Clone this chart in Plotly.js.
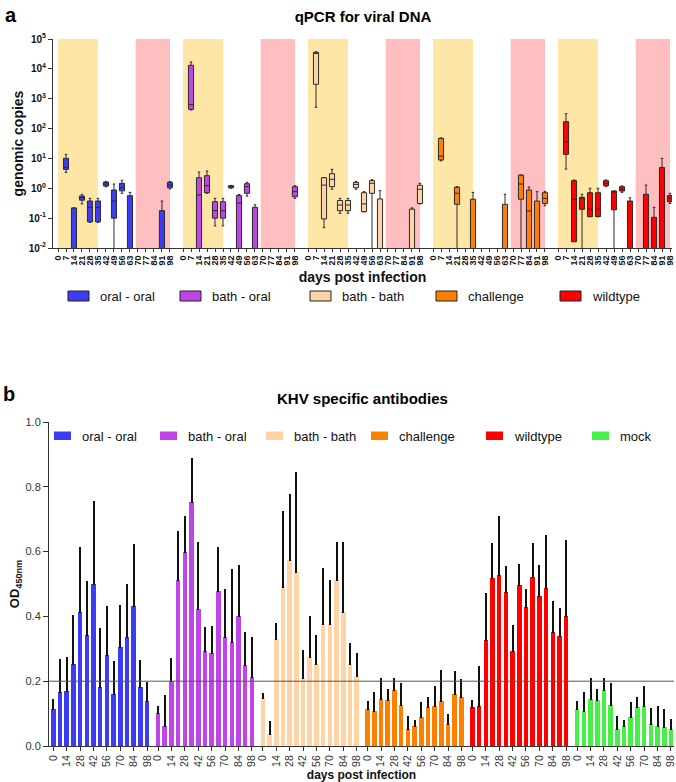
<!DOCTYPE html>
<html><head><meta charset="utf-8">
<script src="https://cdn.plot.ly/plotly-3.0.1.min.js"></script>
<style>html,body{margin:0;padding:0;background:#fff}</style>
</head><body>
<div id="chart" style="width:676px;height:782px"></div>
<script>
// ---------- DATA ----------
const days = [0,7,14,21,28,35,42,49,56,63,70,77,84,91,98];
const qGroups = ['oral - oral','bath - oral','bath - bath','challenge','wildtype'];
const abGroups = ['oral - oral','bath - oral','bath - bath','challenge','wildtype','mock'];
const ND = 0.001; // below detection (drawn under axis floor)

// qPCR box stats per day: [lowerWhisker, q1, median, q3, upperWhisker]; null = not detected
const qOral = [null,[3.4,4.3,5.0,10.1,13.7],[ND,ND,ND,0.22,0.22],[0.30,0.40,0.49,0.55,0.63],
  [0.072,0.075,0.23,0.375,0.46],[0.072,0.075,0.23,0.375,0.46],[1.12,1.19,1.39,1.62,1.7],
  [ND,0.10,0.375,0.875,1.39],[0.68,0.82,1.04,1.47,1.85],[ND,ND,ND,0.565,0.73],null,null,null,
  [ND,ND,ND,0.178,0.375],[0.95,1.04,1.28,1.58,1.7]];
const qBathOral = [null,[419,442,630,13150,16950],[ND,ND,0.6,2.26,3.5],[0.68,0.71,1.22,2.64,3.79],
  [0.055,0.10,0.178,0.355,0.46],[0.055,0.10,0.178,0.355,0.46],[1.0,1.04,1.13,1.22,1.25],
  [ND,ND,0.32,0.57,0.62],[0.55,0.68,1.13,1.42,1.58],[ND,ND,ND,0.23,0.28],null,null,null,null,
  [0.46,0.52,0.77,1.13,1.22]];
const qBathBath = [null,[515,3035,33000,35800,37000],[0.048,0.094,1.28,2.26,2.3],[0.93,1.13,2.0,3.08,4.3],
  [0.145,0.178,0.275,0.39,0.46],[0.145,0.178,0.275,0.39,0.46],[0.93,1.04,1.35,1.58,1.7],
  [0.164,0.164,0.30,0.71,0.77],[ND,0.68,1.47,1.8,1.94],[ND,ND,ND,0.44,0.83],null,null,null,
  [ND,ND,ND,0.20,0.22],[0.30,0.31,0.93,1.26,1.47]];
const qChallenge = [null,[8.3,8.9,12,47,48.5],null,[ND,0.29,0.68,1.08,1.13],null,[ND,ND,ND,0.43,0.73],
  null,null,null,[ND,ND,ND,0.29,0.63],null,[ND,0.43,1.39,2.78,2.78],[ND,ND,0.173,0.875,1.1],
  [ND,ND,ND,0.375,0.77],[0.26,0.31,0.46,0.71,0.79]];
const qWildtype = [null,[4.4,13.7,36,170,315],[0.0163,0.0163,0.43,1.8,1.9],[ND,0.198,0.46,0.50,0.63],
  [0.112,0.112,0.2,0.71,1.0],[0.112,0.112,0.2,0.71,1.0],[1.13,1.22,1.47,1.8,1.9],
  [ND,0.19,0.78,0.81,0.81],[0.73,0.81,0.94,1.13,1.2],[ND,ND,ND,0.375,0.48],null,
  [ND,ND,ND,0.63,1.28],[ND,ND,ND,0.107,0.23],[ND,ND,ND,5.0,10.1],[0.31,0.355,0.46,0.57,0.68]];
const qData = [qOral,qBathOral,qBathBath,qChallenge,qWildtype];

// shaded periods (days)
const yellowDays = [0,35];
const pinkDays = [68,98];

// antibody OD450 means and upper error
const abOral      = [0.114,0.166,0.17,0.254,0.415,0.343,0.5,0.183,0.28,0.162,0.306,0.335,0.433,0.183,0.139];
const abOralErr   = [0.028,0.099,0.103,0.146,0.196,0.163,0.253,0.177,0.149,0.096,0.127,0.163,0.187,0.08,0.056];
const abBathOral  = [0.103,0.063,0.2,0.513,0.6,0.753,0.422,0.292,0.286,0.477,0.335,0.322,0.4,0.25,0.213];
const abBathOralErr=[0.017,0.091,0.068,0.149,0.106,0.133,0.206,0.072,0.08,0.134,0.146,0.222,0.156,0.098,0.12];
const abBathBath  = [0.149,0.036,0.331,0.492,0.575,0.536,0.209,0.274,0.253,0.378,0.377,0.513,0.415,0.253,0.216];
const abBathBathErr=[0.011,0.037,0.045,0.229,0.201,0.307,0.085,0.124,0.087,0.169,0.133,0.114,0.212,0.062,0.067];
const abChallenge = [0.114,0.107,0.145,0.143,0.174,0.128,0.054,0.063,0.09,0.12,0.122,0.139,0.068,0.159,0.152];
const abChallengeErr=[0.021,0.058,0.061,0.03,0.032,0.062,0.035,0.015,0.043,0.028,0.06,0.093,0.029,0.069,0.053];
const abWildtype  = [0.12,0.124,0.328,0.52,0.529,0.475,0.292,0.496,0.429,0.522,0.462,0.489,0.351,0.34,0.402];
const abWildtypeErr=[0.02,0.119,0.141,0.105,0.178,0.078,0.077,0.064,0.053,0.102,0.093,0.159,0.092,0.083,0.23];
const abMock      = [0.114,0.107,0.145,0.143,0.174,0.128,0.054,0.063,0.09,0.12,0.122,0.067,0.063,0.059,0.052];
const abMockErr   = [0.021,0.058,0.061,0.03,0.032,0.062,0.035,0.015,0.043,0.028,0.06,0.047,0.057,0.052,0.027];
const abData = [abOral,abBathOral,abBathBath,abChallenge,abWildtype,abMock];
const abErr  = [abOralErr,abBathOralErr,abBathBathErr,abChallengeErr,abWildtypeErr,abMockErr];
const abThreshold = 0.2;

// ---------- STYLE ----------
const W = 676, H = 782;
const colors = ['#3C3CF5','#BF45E8','#FFD3A3','#FF8000','#FF0000','#46F046'];
const FONT = 'Liberation Sans, Arial, Helvetica, sans-serif';
const GSTEP = 15.63;
const pos = (g, d) => g*GSTEP + d/7;

// ---------- TRACES ----------
const traces = [];
qData.forEach((arr, g) => {
  const x=[], lo=[], q1=[], med=[], q3=[], hi=[];
  arr.forEach((s, i) => {
    if (!s) return;
    x.push(pos(g, days[i])); lo.push(s[0]); q1.push(s[1]); med.push(s[2]); q3.push(s[3]); hi.push(s[4]);
  });
  traces.push({type:'box', name:qGroups[g], x:x, lowerfence:lo, q1:q1, median:med, q3:q3, upperfence:hi,
    fillcolor:colors[g], line:{color:'#2a2a2a', width:1}, width:0.64, whiskerwidth:0.5,
    boxpoints:false, showlegend:false, hoverinfo:'skip', xaxis:'x', yaxis:'y'});
});
abData.forEach((arr, g) => {
  traces.push({type:'bar', name:abGroups[g], x:days.map(d => pos(g, d)), y:arr, width:0.68,
    marker:{color:colors[g], line:{width:0}},
    error_y:{type:'data', symmetric:false, array:abErr[g], arrayminus:arr.map(()=>0),
      color:'#111', thickness:2, width:1},
    showlegend:false, hoverinfo:'skip', xaxis:'x2', yaxis:'y2'});
});

// ---------- SHAPES / ANNOTATIONS ----------
const shapes = [];
const annotations = [];
for (let g = 0; g < qGroups.length; g++) {
  shapes.push({type:'rect', xref:'x', yref:'y domain', x0:pos(g,yellowDays[0]), x1:pos(g,yellowDays[1]),
    y0:0, y1:1, fillcolor:'rgb(254,231,166)', line:{width:0}, layer:'below'});
  shapes.push({type:'rect', xref:'x', yref:'y domain', x0:pos(g,pinkDays[0]), x1:pos(g,pinkDays[1]),
    y0:0, y1:1, fillcolor:'rgb(255,190,192)', line:{width:0}, layer:'below'});
}
shapes.push({type:'line', xref:'x2 domain', yref:'y2', x0:0, x1:1, y0:abThreshold, y1:abThreshold,
  line:{color:'#555', width:1}, layer:'above'});

// legend panel a (manual)
const legA = [68,180,310,436,560];
qGroups.forEach((name, g) => {
  shapes.push({type:'rect', xref:'paper', yref:'paper', x0:legA[g]/W, x1:(legA[g]+21)/W,
    y0:1-301/H, y1:1-291/H, fillcolor:colors[g], line:{color:'#222', width:1}});
  annotations.push({xref:'paper', yref:'paper', x:(legA[g]+30)/W, y:1-296/H, xanchor:'left', yanchor:'middle',
    text:name, showarrow:false, font:{family:FONT, size:13, color:'#111'}});
});
// legend panel b (manual)
const legB = [54,160,266,371,486,592];
abGroups.forEach((name, g) => {
  shapes.push({type:'rect', xref:'paper', yref:'paper', x0:legB[g]/W, x1:(legB[g]+17)/W,
    y0:1-440/H, y1:1-431.5/H, fillcolor:colors[g], line:{width:0}});
  annotations.push({xref:'paper', yref:'paper', x:(legB[g]+26)/W, y:1-436/H, xanchor:'left', yanchor:'middle',
    text:name, showarrow:false, font:{family:FONT, size:13, color:'#111'}});
});
annotations.push({xref:'paper', yref:'paper', x:3/W, y:1-2/H, xanchor:'left', yanchor:'top',
  text:'<b>a</b>', showarrow:false, font:{family:FONT, size:20, color:'#000'}});
annotations.push({xref:'paper', yref:'paper', x:1/W, y:1-381/H, xanchor:'left', yanchor:'top',
  text:'<b>b</b>', showarrow:false, font:{family:FONT, size:20, color:'#000'}});
annotations.push({xref:'paper', yref:'paper', x:362/W, y:1-398/H, xanchor:'center', yanchor:'middle',
  text:'<b>KHV specific antibodies</b>', showarrow:false, font:{family:FONT, size:15, color:'#000'}});

// ---------- AXES ----------
const xA_vals=[], xA_text=[], xB_vals=[], xB_text=[];
for (let g = 0; g < qGroups.length; g++) days.forEach(d => { xA_vals.push(pos(g,d)); xA_text.push(String(d)); });
for (let g = 0; g < abGroups.length; g++) days.forEach((d,i) => { if (i%2===0) { xB_vals.push(pos(g,d)); xB_text.push(String(d)); } });

const logTicks = [0.01,0.1,1,10,100,1000,10000,100000];
const logText = ['-2','-1','0','1','2','3','4','5'].map(e => '10<sup>'+e+'</sup>');

const layout = {
  width:W, height:H, margin:{l:0,r:0,t:0,b:0}, paper_bgcolor:'#fff', plot_bgcolor:'rgba(0,0,0,0)',
  font:{family:FONT, color:'#222'}, showlegend:false, bargap:0,
  title:{text:'<b>qPCR for viral DNA</b>', x:363/W, xanchor:'center', y:1-16.5/H, yanchor:'middle',
    yref:'container', font:{family:FONT, size:15, color:'#000'}},
  xaxis:{domain:[53/W,672/W], range:[-0.625, 4*GSTEP+14+0.25], anchor:'y', automargin:false,
    tickmode:'array', tickvals:xA_vals, ticktext:xA_text, tickangle:-90, ticklabeloverflow:'allow',
    tickfont:{family:FONT, size:9, weight:'bold', color:'#111'},
    showline:true, linecolor:'#333', linewidth:1, ticks:'outside', ticklen:3, tickcolor:'#333',
    showgrid:false, zeroline:false,
    title:{text:'<b>days post infection</b>', font:{family:FONT, size:14, color:'#111'}, standoff:7}},
  yaxis:{domain:[1-248/H, 1-39/H], type:'log', range:[-2,5], anchor:'x', automargin:false,
    tickmode:'array', tickvals:logTicks, ticktext:logText,
    tickfont:{family:FONT, size:10, weight:'bold', color:'#111'},
    showline:true, linecolor:'#333', linewidth:1, ticks:'outside', ticklen:4, tickcolor:'#333',
    showgrid:false, zeroline:false,
    title:{text:'<b>genomic copies</b>', font:{family:FONT, size:14, color:'#111'}, standoff:1}},
  xaxis2:{domain:[49/W,674/W], range:[-0.64, 5*GSTEP+14+0.45], anchor:'y2', automargin:false,
    tickmode:'array', tickvals:xB_vals, ticktext:xB_text, tickangle:-90, ticklabeloverflow:'allow',
    tickfont:{family:FONT, size:10.5, color:'#333'},
    showline:true, linecolor:'#333', linewidth:1, ticks:'outside', ticklen:4, tickcolor:'#333',
    showgrid:false, zeroline:false,
    title:{text:'<b>days post infection</b>', font:{family:FONT, size:12, color:'#111'}, standoff:4}},
  yaxis2:{domain:[1-746/H, 1-422/H], range:[0,1], anchor:'x2', automargin:false,
    tickmode:'array', tickvals:[0,0.2,0.4,0.6,0.8,1.0], tickformat:'.1f',
    tickfont:{family:FONT, size:11, color:'#333'},
    showline:true, linecolor:'#333', linewidth:1, ticks:'outside', ticklen:5, tickcolor:'#333',
    showgrid:false, zeroline:false,
    title:{text:'<b>OD<sub>450nm</sub></b>', font:{family:FONT, size:13, color:'#111'}, standoff:2}},
  shapes:shapes, annotations:annotations
};

Plotly.newPlot('chart', traces, layout, {staticPlot:true, displayModeBar:false});
</script>
</body></html>
